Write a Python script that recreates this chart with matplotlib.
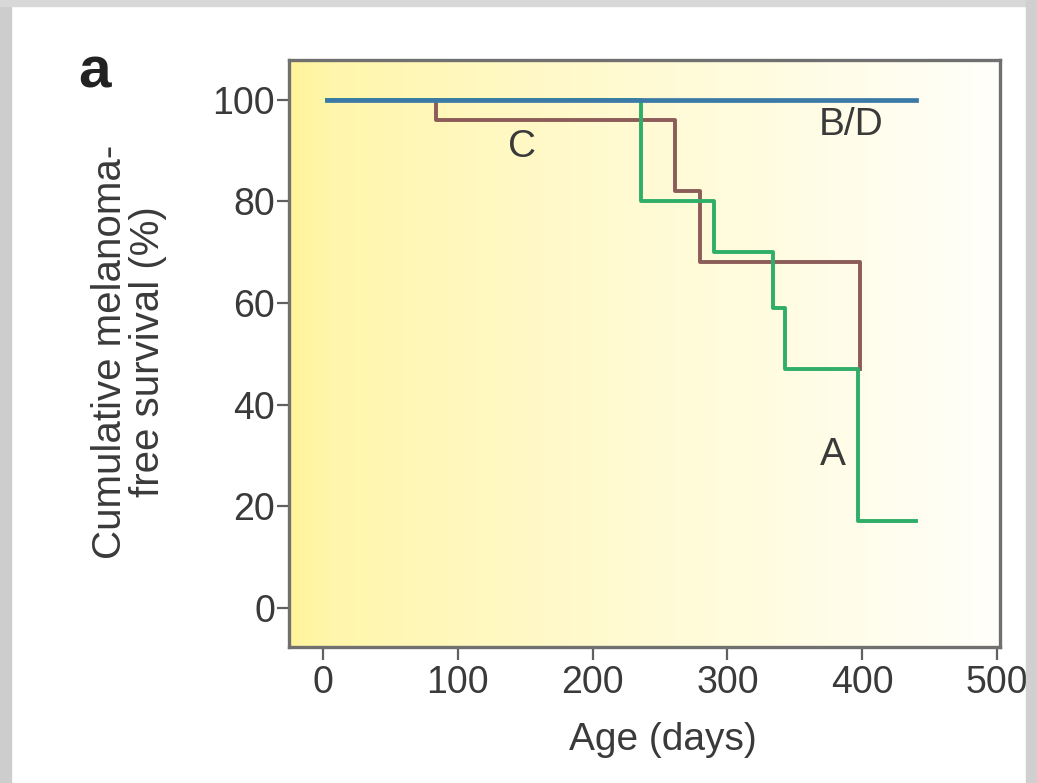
import matplotlib
matplotlib.use('Agg')
import matplotlib.pyplot as plt
import numpy as np
from matplotlib.colors import LinearSegmentedColormap
from matplotlib.patches import Rectangle

# Schrift
plt.rcParams['font.family'] = ['Liberation Sans', 'DejaVu Sans']

# Daten
tage_a = [3, 236, 290, 334, 343, 397, 440]
surv_a = [100, 80, 70, 59, 47, 17, 17]
tage_c = [3, 84, 261, 280, 398]
surv_c = [100, 96, 82, 68, 47]
tage_bd = [3, 440]
surv_bd = [100, 100]

x_ticks = [0, 100, 200, 300, 400, 500]
y_ticks = [0, 20, 40, 60, 80, 100]

txt = '#3a3a3a'
fig = plt.figure(figsize=(10.37, 7.83), dpi=100)

# grauer Rahmen
fig.patches.append(Rectangle((0, 0), 11/1037, 1, transform=fig.transFigure, color='#cdcdcd', zorder=0))
fig.patches.append(Rectangle((0, 1-6/783), 1, 6/783, transform=fig.transFigure, color='#d8d8d8', zorder=0))
fig.patches.append(Rectangle((1-11/1037, 0), 11/1037, 1, transform=fig.transFigure, color='#d0d0d0', zorder=0))

ax = fig.add_axes([289/1037, 136/783, 711/1037, 587/783])
ax.set_xlim(-25.2, 502.2)
ax.set_ylim(-7.7, 107.8)

# Hintergrund-Verlauf gelb -> weiss
cmap = LinearSegmentedColormap.from_list('gelb', [(0, '#fff49a'), (0.06, '#fff6ac'),
                                                   (0.45, '#fffad0'), (0.8, '#fffdea'), (1, '#fffffa')])
grad = np.linspace(0, 1, 256).reshape(1, -1)
ax.imshow(grad, cmap=cmap, aspect='auto', extent=[0, 1, 0, 1], transform=ax.transAxes, zorder=0)

ax.step(tage_c, surv_c, where='post', color='#8c5c58', lw=2.8, zorder=2)
ax.step(tage_a, surv_a, where='post', color='#2eae68', lw=2.8, zorder=3)
ax.step(tage_bd, surv_bd, where='post', color='#3b7aa6', lw=3.4, zorder=4)

ax.text(148, 90.7, 'C', fontsize=28, color=txt, ha='center', va='center')
ax.text(392, 95, 'B/D', fontsize=28, color=txt, ha='center', va='center')
ax.text(378, 30, 'A', fontsize=28, color=txt, ha='center', va='center')

for s in ax.spines.values():
    s.set_color('#707070')
    s.set_linewidth(2.4)

ax.set_xticks(x_ticks)
ax.set_yticks(y_ticks)
ax.tick_params(axis='both', direction='out', length=9, width=1.6, color='#606060',
               labelsize=27, labelcolor=txt)
ax.tick_params(axis='y', pad=1)
ax.tick_params(axis='x', pad=4)

fig.text(663/1037, 1-740/783, 'Age (days)', fontsize=28, color=txt, ha='center', va='center')
fig.text(129/1037, 1-352/783, 'Cumulative melanoma-\nfree survival (%)', fontsize=29, color=txt,
         ha='center', va='center', rotation=90, multialignment='center', linespacing=1.0)
fig.text(94/1037, 1-73/783, 'a', fontsize=42, fontweight='bold', color='#222222', ha='center', va='center')

fig.savefig('out.png', dpi=100)
